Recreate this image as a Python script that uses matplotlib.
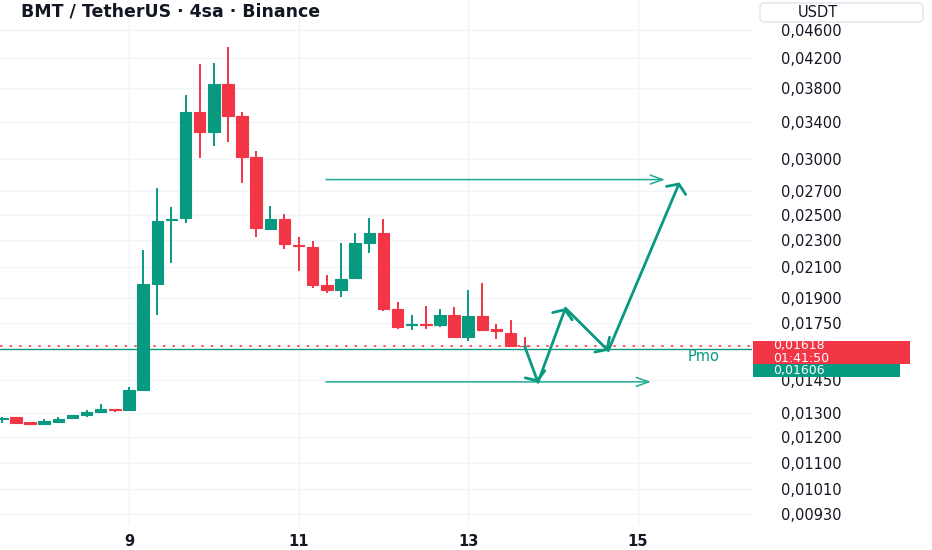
import matplotlib
matplotlib.use("Agg")
import matplotlib.pyplot as plt
import numpy as np
from matplotlib.patches import Rectangle, FancyBboxPatch
from matplotlib.ticker import NullLocator

# ---------------- data ----------------
start_day = 7.5          # first visible 4h candle (day of month)
step = 1 / 6             # 4 hours in days

opens = [0.01275, 0.01280, 0.01259, 0.01253, 0.01261, 0.01277, 0.01288, 0.01301, 0.01315, 0.01310,
         0.01400, 0.01988, 0.02460, 0.02469, 0.03508, 0.03287, 0.03849, 0.03466, 0.03027, 0.02381,
         0.02464, 0.02265, 0.02244, 0.01983, 0.01949, 0.02025, 0.02274, 0.02350, 0.01830, 0.01736,
         0.01745, 0.01736, 0.01794, 0.01667, 0.01790, 0.01711, 0.01692, 0.01621]
highs = [0.01280, 0.01280, 0.01259, 0.01271, 0.01281, 0.01289, 0.01311, 0.01337, 0.01315, 0.01413,
         0.02224, 0.02729, 0.02566, 0.03711, 0.04107, 0.04121, 0.04345, 0.03505, 0.03087, 0.02574,
         0.02505, 0.02319, 0.02291, 0.02050, 0.02274, 0.02350, 0.02469, 0.02461, 0.01875, 0.01792,
         0.01850, 0.01830, 0.01840, 0.01949, 0.01992, 0.01742, 0.01765, 0.01670]
lows = [0.01255, 0.01257, 0.01250, 0.01253, 0.01261, 0.01277, 0.01282, 0.01301, 0.01301, 0.01310,
        0.01400, 0.01794, 0.02128, 0.02429, 0.03011, 0.03139, 0.03181, 0.02772, 0.02324, 0.02381,
        0.02229, 0.02077, 0.01960, 0.01928, 0.01906, 0.02025, 0.02204, 0.01820, 0.01715, 0.01707,
        0.01711, 0.01726, 0.01661, 0.01648, 0.01702, 0.01656, 0.01616, 0.01607]
closes = [0.01279, 0.01257, 0.01253, 0.01263, 0.01275, 0.01289, 0.01304, 0.01314, 0.01310, 0.01400,
          0.01988, 0.02450, 0.02464, 0.03505, 0.03287, 0.03849, 0.03462, 0.03027, 0.02389, 0.02464,
          0.02266, 0.02254, 0.01983, 0.01949, 0.02023, 0.02274, 0.02350, 0.01830, 0.01726, 0.01743,
          0.01739, 0.01794, 0.01667, 0.01790, 0.01707, 0.01704, 0.01621, 0.01618]

pmo_level = 0.01606
upper_target = 0.02807
lower_target = 0.01439
arrow_start_day = 11.323
upper_end_day = 15.321
lower_end_day = 15.156

proj_days = [13.667, 13.823, 14.147, 14.652, 15.492]
proj_prices = [0.01618, 0.01437, 0.01836, 0.01595, 0.02780]

y_ticks = [0.0093, 0.0101, 0.0110, 0.0120, 0.0130, 0.0145, 0.0175, 0.0190, 0.0210,
           0.0230, 0.0250, 0.0270, 0.0300, 0.0340, 0.0380, 0.0420, 0.0460]
x_ticks = [9, 11, 13, 15]
x_tick_labels = ["9", "11", "13", "15"]
title = "BMT / TetherUS · 4sa · Binance"
countdown = "01:41:50"

# ---------------- style ----------------
UP = "#089981"
DOWN = "#F23645"
TXT = "#131722"
GRID = "#f0f3fa"
LINE = "#22ab94"

W, H = 932, 550
PLOT_R, PLOT_B = 752, 526

fig = plt.figure(figsize=(W / 100, H / 100), dpi=100)
fig.patch.set_facecolor("white")
ax = fig.add_axes([0, 1 - PLOT_B / H, PLOT_R / W, PLOT_B / H])
ax.set_yscale("log")
ax.set_xlim(7.479, 16.347)
ax.set_ylim(0.00894, 0.0508)

for s in ax.spines.values():
    s.set_visible(False)

def fmt(v):
    return f"{v:.5f}".replace(".", ",")

ax.set_yticks(y_ticks)
ax.set_yticklabels([fmt(v) for v in y_ticks])
ax.yaxis.set_minor_locator(NullLocator())
ax.yaxis.tick_right()
ax.set_xticks(x_ticks)
ax.set_xticklabels(x_tick_labels, fontweight="bold")
ax.tick_params(axis="y", length=0, pad=21, labelsize=10.5, labelcolor=TXT)
ax.tick_params(axis="x", length=0, pad=6, labelsize=10.5, labelcolor=TXT)
ax.grid(True, color=GRID, lw=1)
ax.set_axisbelow(True)

n = len(opens)
days = start_day + np.arange(n) * step
o = np.array(opens); c = np.array(closes); hi = np.array(highs); lo = np.array(lows)
cols = [UP if cc >= oo else DOWN for oo, cc in zip(o, c)]
ax.vlines(days, lo, hi, colors=cols, lw=1.4, zorder=2)
bottom = np.minimum(o, c)
height = np.abs(c - o)
ax.bar(days, height, bottom=bottom, width=0.135, color=cols, edgecolor=cols,
       linewidth=0.8, zorder=3)

# price lines
ax.axhline(closes[-1], color=DOWN, alpha=0.8, ls=(0, (1.2, 3.4)), lw=1.5, zorder=2)
ax.axhline(pmo_level, color=UP, lw=1.0, zorder=2)
ax.annotate("Pmo", xy=(15.77, pmo_level), xytext=(0, -8), textcoords="offset pixels",
            ha="center", va="center", color=UP, fontsize=10.5)

# horizontal target arrows
for lvl, xe in ((upper_target, upper_end_day), (lower_target, lower_end_day)):
    ax.annotate("", xy=(xe, lvl), xytext=(arrow_start_day, lvl),
                arrowprops=dict(arrowstyle="->,head_length=0.9,head_width=0.32",
                                color=LINE, lw=1.1, shrinkA=0, shrinkB=0), zorder=4)

# projected zigzag
for i in range(len(proj_days) - 1):
    ax.annotate("", xy=(proj_days[i + 1], proj_prices[i + 1]),
                xytext=(proj_days[i], proj_prices[i]),
                arrowprops=dict(arrowstyle="->,head_length=0.5,head_width=0.75",
                                color=UP, lw=2.0, shrinkA=0, shrinkB=0), zorder=5)

# ---------------- overlay texts ----------------
def fx(px):
    return px / W

def fy(py):
    return 1 - py / H

fig.text(fx(21), fy(12), title, fontsize=12.5, fontweight="bold", color=TXT,
         va="center", ha="left")

usdt = FancyBboxPatch((fx(760), fy(22)), fx(923) - fx(760), fy(3) - fy(22),
                      boxstyle="round,pad=0,rounding_size=0.005", mutation_aspect=W / H,
                      transform=fig.transFigure, facecolor="white", edgecolor="#e0e3eb", lw=1)
fig.patches.append(usdt)
fig.text(fx(818), fy(12.5), "USDT", fontsize=10.5, color=TXT, ha="center", va="center")

red_box = Rectangle((fx(753), fy(364)), fx(910) - fx(753), fy(340.7) - fy(364),
                    transform=fig.transFigure, facecolor=DOWN, edgecolor="none", zorder=5)
green_box = Rectangle((fx(753), fy(376.7)), fx(900) - fx(753), fy(364.3) - fy(376.7),
                      transform=fig.transFigure, facecolor=UP, edgecolor="none", zorder=5)
fig.patches.append(red_box)
fig.patches.append(green_box)
fig.text(fx(773), fy(352), fmt(closes[-1]) + "\n" + countdown, fontsize=9, color="white",
         ha="left", va="center", linespacing=0.95, zorder=6)
fig.text(fx(773), fy(370.5), fmt(pmo_level), fontsize=9, color="white", ha="left",
         va="center", zorder=6)

fig.savefig("out.png", dpi=100)
